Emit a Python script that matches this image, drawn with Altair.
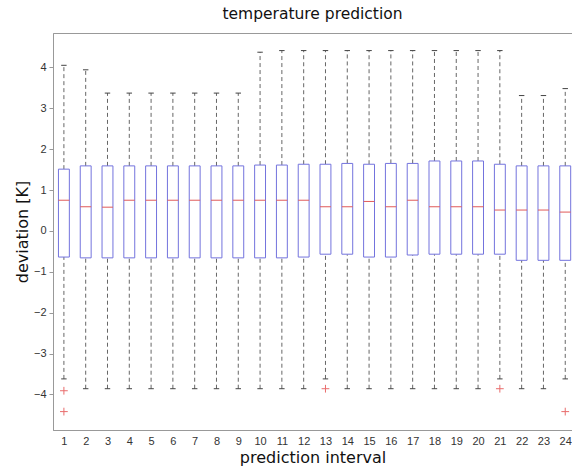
import altair as alt
import pandas as pd

# Forecast horizon (1..24) and the box-plot statistics of the temperature deviation [K]
intervals = list(range(1, 25))
whisker_hi = [4.05, 3.94, 3.37, 3.37, 3.37, 3.37, 3.37, 3.37, 3.37, 4.37, 4.41, 4.41,
              4.41, 4.41, 4.41, 4.41, 4.41, 4.41, 4.41, 4.41, 4.41, 3.31, 3.31, 3.48]
q3 = [1.51, 1.59, 1.59, 1.59, 1.59, 1.59, 1.59, 1.59, 1.59, 1.61, 1.61, 1.63,
      1.63, 1.65, 1.63, 1.65, 1.65, 1.71, 1.71, 1.71, 1.63, 1.59, 1.59, 1.59]
median = [0.75, 0.59, 0.58, 0.75, 0.75, 0.75, 0.75, 0.75, 0.75, 0.75, 0.75, 0.75,
          0.59, 0.59, 0.72, 0.59, 0.75, 0.59, 0.59, 0.59, 0.51, 0.51, 0.51, 0.46]
q1 = [-0.64, -0.66, -0.66, -0.66, -0.66, -0.66, -0.66, -0.66, -0.66, -0.66, -0.66, -0.64,
      -0.57, -0.57, -0.64, -0.64, -0.59, -0.57, -0.57, -0.57, -0.57, -0.72, -0.72, -0.72]
whisker_lo = [-3.62, -3.86, -3.86, -3.86, -3.86, -3.86, -3.86, -3.86, -3.86, -3.86, -3.86, -3.86,
              -3.62, -3.86, -3.86, -3.86, -3.86, -3.86, -3.86, -3.86, -3.62, -3.86, -3.86, -3.62]

# Outlying values
outlier_interval = [1, 1, 13, 21, 24]
outlier_value = [-3.91, -4.42, -3.86, -3.86, -4.42]

stats = pd.DataFrame({
    "interval": intervals,
    "whisker_hi": whisker_hi,
    "q3": q3,
    "median": median,
    "q1": q1,
    "whisker_lo": whisker_lo,
})
outliers = pd.DataFrame({"interval": outlier_interval, "value": outlier_value})

x_scale = alt.Scale(domain=[0.5, 24.31], nice=False, zero=False)
y_scale = alt.Scale(domain=[-4.87, 4.84], nice=False, zero=False)

x_axis = alt.Axis(values=intervals, title="prediction interval", grid=False,
                  ticks=False, labelPadding=5, titlePadding=3, labelOverlap=False,
                  labelSeparation=0)
y_axis = alt.Axis(values=[-4, -3, -2, -1, 0, 1, 2, 3, 4], title="deviation [K]",
                  grid=False, tickSize=4, labelPadding=3, titlePadding=3)

base = alt.Chart(stats).transform_calculate(
    box_lo="datum.interval - 0.25",
    box_hi="datum.interval + 0.25",
    cap_lo="datum.interval - 0.125",
    cap_hi="datum.interval + 0.125",
)

upper_whisker = base.mark_rule(color="#666666", strokeDash=[4, 3], strokeWidth=1).encode(
    x=alt.X("interval:Q", scale=x_scale, axis=x_axis),
    y=alt.Y("q3:Q", scale=y_scale, axis=y_axis),
    y2="whisker_hi:Q",
)
lower_whisker = base.mark_rule(color="#666666", strokeDash=[4, 3], strokeWidth=1).encode(
    x=alt.X("interval:Q", axis=x_axis),
    y=alt.Y("whisker_lo:Q", axis=y_axis),
    y2="q1:Q",
)
upper_cap = base.mark_rule(color="#444444", strokeWidth=1).encode(
    x=alt.X("cap_lo:Q", axis=x_axis), x2="cap_hi:Q", y=alt.Y("whisker_hi:Q", axis=y_axis),
)
lower_cap = base.mark_rule(color="#444444", strokeWidth=1).encode(
    x=alt.X("cap_lo:Q", axis=x_axis), x2="cap_hi:Q", y=alt.Y("whisker_lo:Q", axis=y_axis),
)
boxes = base.mark_rect(fill="white", stroke="#7373dd", strokeWidth=1).encode(
    x=alt.X("box_lo:Q", axis=x_axis), x2="box_hi:Q",
    y=alt.Y("q1:Q", axis=y_axis), y2="q3:Q",
)
medians = base.mark_rule(color="#e05a5a", strokeWidth=1).encode(
    x=alt.X("box_lo:Q", axis=x_axis), x2="box_hi:Q", y=alt.Y("median:Q", axis=y_axis),
)
outlier_marks = alt.Chart(outliers).mark_point(
    shape="M-1,0L1,0M0,-1L0,1", filled=False, color="#e03030", size=60, strokeWidth=1,
).encode(
    x=alt.X("interval:Q", axis=x_axis),
    y=alt.Y("value:Q", axis=y_axis),
)

chart = alt.layer(
    upper_whisker, lower_whisker, upper_cap, lower_cap, boxes, medians, outlier_marks
).properties(
    width=519,
    height=397,
    background="white",
    title=alt.TitleParams("temperature prediction", font="DejaVu Sans", fontSize=15.5,
                          fontWeight="normal", color="#111111", anchor="middle", offset=11),
    autosize=alt.AutoSizeParams(type="none"),
    padding={"left": 53, "top": 33, "right": 0, "bottom": 40},
).configure_view(
    stroke="#999999", strokeWidth=1
).configure_axis(
    domainColor="#999999",
    tickColor="#999999",
    labelColor="#333333",
    labelFont="Liberation Sans",
    labelFontSize=11,
    titleFont="DejaVu Sans",
    titleFontSize=16,
    titleFontWeight="normal",
    titleColor="#111111",
).configure_axisX(
    labelOverlap=False,
)

chart.save("out.html", embed_options={"renderer": "svg", "actions": False})
